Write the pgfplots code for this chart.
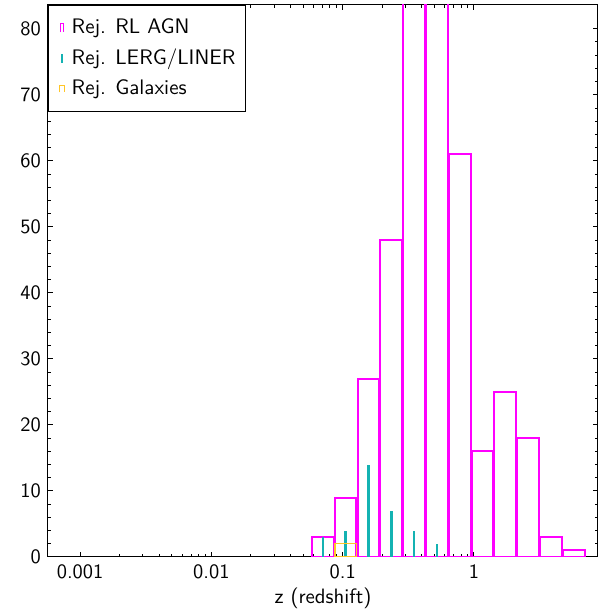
\documentclass[border=0pt]{standalone}
\usepackage{fontspec}
\usepackage{pgfplots}
\pgfplotsset{compat=1.18}
\renewcommand{\familydefault}{\sfdefault}
\definecolor{mag}{RGB}{255,0,255}
\definecolor{cya}{RGB}{20,178,178}
\definecolor{yel}{RGB}{255,198,40}
\begin{document}
\fontsize{10.2}{12}\selectfont
\begin{tikzpicture}
\begin{axis}[
  scale only axis,
  width=275pt, height=276pt,
  xmode=log,
  xmin=0.00057, xmax=8.8,
  ymin=0, ymax=83.6,
  xtick={0.001,0.01,0.1,1},
  xticklabels={0.001,0.01,0.1,1},
  ytick={0,10,20,30,40,50,60,70,80},
  minor y tick num=4,
  /pgf/number format/assume math mode=true,
  tick label style={font=\fontsize{10.2}{12}\selectfont},
  label style={font=\fontsize{10.4}{12}\selectfont},
  major tick length=2.5pt,
  minor tick length=1.5pt,
  tick style={black, line width=0.5pt},
  axis line style={line width=0.5pt},
  xlabel={z (redshift)},
  xlabel style={yshift=2.5pt},
  legend cell align=left,
  legend style={at={(0,1)}, anchor=north west, draw=black, line width=0.5pt,
    font=\fontsize{10.5}{12}\selectfont, row sep=2pt, inner xsep=3pt, inner ysep=4.8pt},
  clip=true,
]
\addplot[ybar interval=0.95, /pgf/bar interval width=0.95, draw=mag, line width=1pt, fill=none,
  legend image code/.code={\path[draw=none,fill=none] (-3pt,0pt) (3.6pt,0pt);\draw[mag, line width=0.5pt] (0pt,-2.2pt) -- (0pt,2.2pt) -- (1.6pt,2.2pt) -- (1.6pt,-2.2pt);}]
  coordinates {(0.0579,3) (0.0863,9) (0.1287,27) (0.1920,48) (0.2864,100) (0.4272,100) (0.6372,61) (0.9504,16) (1.418,25) (2.115,18) (3.155,3) (4.706,1) (7.02,1)};
\addlegendentry{Rej. RL AGN}
\addplot[ycomb, no marks, draw=cya, line width=1.3pt,
  legend image code/.code={\path[draw=none,fill=none] (-3pt,0pt) (3.6pt,0pt);\draw[cya, line width=1pt] (0.8pt,-2.2pt) -- (0.8pt,2.2pt);}]
  coordinates {(0.0707,3) (0.1054,4) (0.1572,14) (0.2345,7) (0.3498,4) (0.5217,2)};
\addlegendentry{Rej. LERG/LINER}
\addplot[ybar interval=0.95, /pgf/bar interval width=0.95, draw=yel, line width=0.7pt, fill=none,
  legend image code/.code={\path[draw=none,fill=none] (-3pt,0pt) (3.6pt,0pt);\draw[yel, line width=0.5pt] (-0.4pt,-1.8pt) -- (-0.4pt,1.8pt) -- (2.2pt,1.8pt) -- (2.2pt,-1.8pt);}]
  coordinates {(0.0863,2) (0.1287,2)};
\addlegendentry{Rej. Galaxies}
\end{axis}
\path ([xshift=-24pt, yshift=-29.5pt]current axis.south west) rectangle ([xshift=5.5pt, yshift=2.5pt]current axis.north east);
\end{tikzpicture}
\end{document}
